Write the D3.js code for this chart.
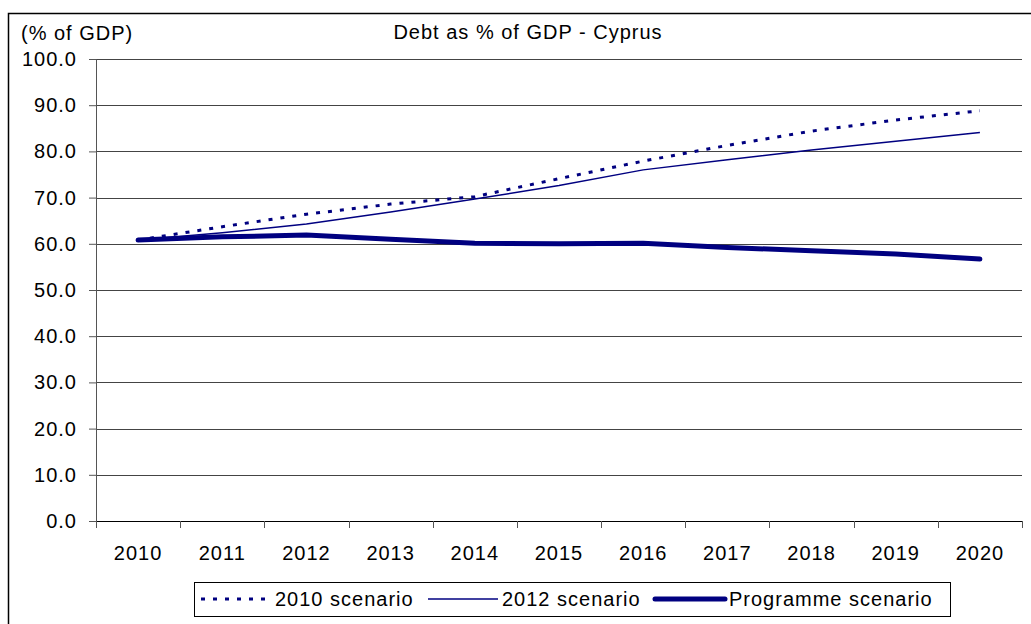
<!DOCTYPE html>
<html>
<head>
<meta charset="utf-8">
<script src="https://cdnjs.cloudflare.com/ajax/libs/d3/7.8.5/d3.min.js"></script>
<style>
  body { margin: 0; background: #fff; }
  text { font-family: "Liberation Sans", Arial, sans-serif; font-size: 20px; letter-spacing: 1px; fill: #000; }
</style>
</head>
<body>
<div id="chart"></div>
<script>
// data
const years = ["2010", "2011", "2012", "2013", "2014", "2015", "2016", "2017", "2018", "2019", "2020"];
const scenario2010 = [60.8, 63.7, 66.4, 68.6, 70.2, 74.1, 77.9, 81.3, 84.4, 86.8, 88.8];
const scenario2012 = [60.8, 62.4, 64.3, 66.9, 69.7, 72.6, 76.0, 78.2, 80.3, 82.2, 84.1];
const programme = [60.8, 61.5, 61.9, 61.0, 60.1, 60.0, 60.1, 59.2, 58.5, 57.8, 56.7];
const yTicks = [0, 10, 20, 30, 40, 50, 60, 70, 80, 90, 100];

const seriesNames = ["2010 scenario", "2012 scenario", "Programme scenario"];

const W = 1031, H = 624;
const margin = { top: 59, right: 9, bottom: 103, left: 96 };
const width = W - margin.left - margin.right;
const height = H - margin.top - margin.bottom;
const navy = "#000080";

const svg = d3.select("#chart").append("svg")
    .attr("width", W)
    .attr("height", H);

// outer frame (runs off the right and bottom edges)
svg.append("rect")
    .attr("x", 8.5).attr("y", 13.5)
    .attr("width", W + 20).attr("height", H + 20)
    .attr("fill", "none").attr("stroke", "#000").attr("stroke-width", 1.5);

const g = svg.append("g")
    .attr("transform", `translate(${margin.left},${margin.top})`);

const x = d3.scaleBand().domain(years).range([0, width]);
const y = d3.scaleLinear().domain([0, 100]).range([height, 0]);
const cx = d => x(d) + x.bandwidth() / 2;

// gridlines
g.append("g")
    .selectAll("line")
    .data(yTicks.filter(d => d > 0))
    .enter().append("line")
    .attr("x1", 0).attr("x2", width)
    .attr("y1", d => Math.round(y(d)) + 0.5).attr("y2", d => Math.round(y(d)) + 0.5)
    .attr("stroke", "#444").attr("stroke-width", 1);

// y axis
const yAxis = g.append("g")
    .call(d3.axisLeft(y).tickValues(yTicks).tickFormat(d3.format(".1f")).tickSize(7).tickPadding(12));
yAxis.select(".domain").attr("stroke", "#555");
yAxis.selectAll(".tick line").attr("stroke", "#555");
yAxis.selectAll("text").style("font-size", "20px").attr("fill", "#000");

// x axis: ticks sit on the band edges
const xAxis = g.append("g").attr("transform", `translate(0,${height})`);
xAxis.append("line")
    .attr("x1", 0).attr("x2", width).attr("y1", 0.5).attr("y2", 0.5)
    .attr("stroke", "#000");
xAxis.selectAll(".xt")
    .data(years.concat(["end"]))
    .enter().append("line")
    .attr("class", "xt")
    .attr("x1", (d, i) => Math.round(i * x.bandwidth()) + 0.5)
    .attr("x2", (d, i) => Math.round(i * x.bandwidth()) + 0.5)
    .attr("y1", 0).attr("y2", 7)
    .attr("stroke", "#555");
xAxis.selectAll(".xl")
    .data(years)
    .enter().append("text")
    .attr("class", "xl")
    .attr("x", d => cx(d))
    .attr("y", 39)
    .attr("text-anchor", "middle")
    .text(d => d);

// lines
const line = d3.line()
    .x((d, i) => cx(years[i]))
    .y(d => y(d));

g.append("path").datum(scenario2010)
    .attr("d", line).attr("fill", "none")
    .attr("stroke", navy).attr("stroke-width", 3).attr("stroke-dasharray", "4,8");
g.append("path").datum(scenario2012)
    .attr("d", line).attr("fill", "none")
    .attr("stroke", navy).attr("stroke-width", 1.5);
g.append("path").datum(programme)
    .attr("d", line).attr("fill", "none")
    .attr("stroke", navy).attr("stroke-width", 5).attr("stroke-linecap", "round");

// title and unit label
svg.append("text")
    .attr("x", 528).attr("y", 39)
    .attr("text-anchor", "middle")
    .text("Debt as % of GDP - Cyprus");
svg.append("text")
    .attr("x", 21).attr("y", 40)
    .text("(% of GDP)");

// legend
const legend = svg.append("g");
legend.append("rect")
    .attr("x", 194.5).attr("y", 582.5).attr("width", 756).attr("height", 34)
    .attr("fill", "#fff").attr("stroke", "#000");

const legendItems = [
    { name: seriesNames[0], x: 201, dash: "4,8", w: 3 },
    { name: seriesNames[1], x: 428, dash: null, w: 1.5 },
    { name: seriesNames[2], x: 655, dash: null, w: 5 }
];
legendItems.forEach(it => {
    legend.append("line")
        .attr("x1", it.x).attr("x2", it.x + 70)
        .attr("y1", 599).attr("y2", 599)
        .attr("stroke", navy).attr("stroke-width", it.w)
        .attr("stroke-dasharray", it.dash)
        .attr("stroke-linecap", it.w === 5 ? "round" : "butt");
    legend.append("text")
        .attr("x", it.x + 74).attr("y", 606)
        .text(it.name);
});
</script>
</body>
</html>
